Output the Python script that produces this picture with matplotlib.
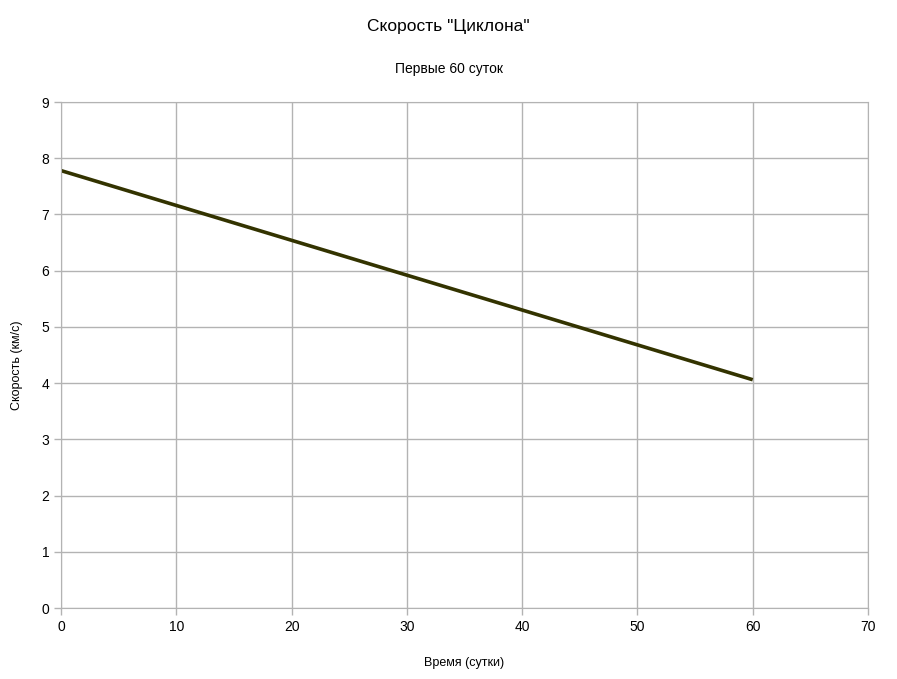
import numpy as np
import matplotlib.pyplot as plt

# Данные
days = [0, 10, 20, 30, 40, 50, 60]
speed = [7.78, 7.16, 6.54, 5.92, 5.30, 4.68, 4.06]
x_ticks = [0, 10, 20, 30, 40, 50, 60, 70]
y_ticks = [0, 1, 2, 3, 4, 5, 6, 7, 8, 9]

plt.rcParams['font.family'] = ['Liberation Sans', 'DejaVu Sans']

fig = plt.figure(figsize=(8.97, 6.79), dpi=100)
ax = fig.add_axes([61/897, 1 - 608/679, (868 - 61)/897, (608 - 102)/679])

ax.plot(days, speed, color="#333300", lw=2.6, solid_capstyle="butt")

ax.set_xlim(0, 70)
ax.set_ylim(0, 9)
ax.set_xticks(x_ticks)
ax.set_yticks(y_ticks)
ax.grid(True, color="#b3b3b3", lw=1)
ax.set_axisbelow(True)
for s in ax.spines.values():
    s.set_color("#b3b3b3")
ax.tick_params(colors="#b3b3b3", labelcolor="black", labelsize=10, length=5, width=1)

ax.set_xlabel("Время (сутки)", fontsize=9, labelpad=17)
ax.set_ylabel("Скорость (км/с)", fontsize=9)
ax.yaxis.set_label_coords(-38/807, 0.48)

fig.text(0.5, 1 - 27/679, 'Скорость "Циклона"', ha="center", va="center", fontsize=12.5)
fig.text(0.5, 1 - 69/679, "Первые 60 суток", ha="center", va="center", fontsize=10)

fig.savefig("out.png", dpi=100)
